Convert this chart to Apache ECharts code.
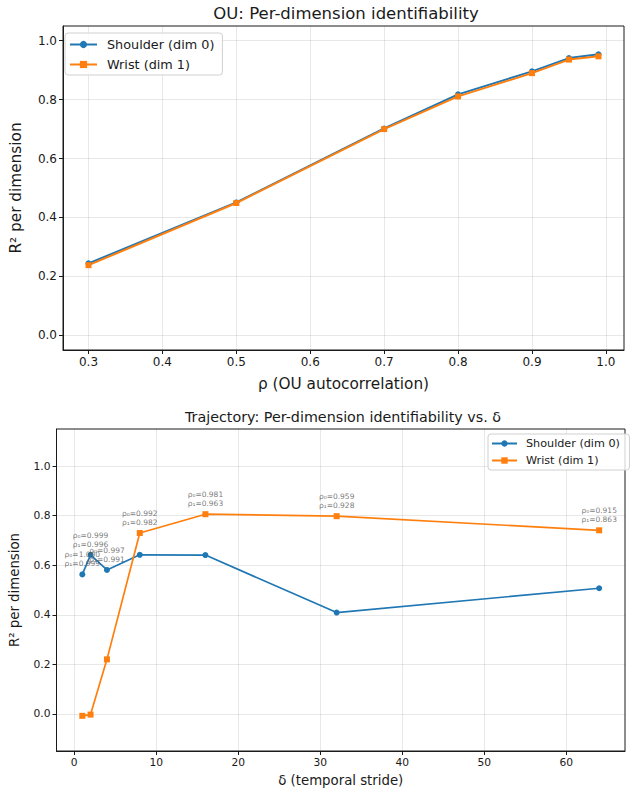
<!DOCTYPE html>
<html>
<head>
<meta charset="utf-8">
<script src="https://cdn.jsdelivr.net/npm/echarts@6/dist/echarts.min.js"></script>
<style>
  html, body { margin: 0; padding: 0; background: #fff; }
  #chart { width: 632px; height: 794px; }
</style>
</head>
<body>
<div id="chart"></div>
<script>
// ---------- data: OU panel ----------
var ouRho = [0.3, 0.5, 0.7, 0.8, 0.9, 0.95, 0.99];
var ouShoulder = [0.244, 0.451, 0.702, 0.818, 0.896, 0.941, 0.954];
var ouWrist = [0.238, 0.449, 0.700, 0.811, 0.890, 0.936, 0.947];
var ouXTicks = [0.3, 0.4, 0.5, 0.6, 0.7, 0.8, 0.9, 1.0];
var ouYTicks = [0.0, 0.2, 0.4, 0.6, 0.8, 1.0];

// ---------- data: trajectory panel ----------
var strides = [1, 2, 4, 8, 16, 32, 64];
var trShoulder = [0.563, 0.642, 0.581, 0.642, 0.641, 0.409, 0.507];
var trWrist = [-0.008, -0.003, 0.220, 0.730, 0.806, 0.798, 0.741];
var rho0 = ['1.000', '0.999', '0.997', '0.992', '0.981', '0.959', '0.915'];
var rho1 = ['0.999', '0.996', '0.991', '0.982', '0.963', '0.928', '0.863'];
var trXTicks = [0, 10, 20, 30, 40, 50, 60];
var trYTicks = [0.0, 0.2, 0.4, 0.6, 0.8, 1.0];

var blue = '#1f77b4';
var orange = '#ff7f0e';
var ink = '#1a1a1a';
var font = 'DejaVu Sans';

function valueAxis(gridIndex, min, max, ticks, fmt, labelSize, name, nameGap, nameSize) {
  return {
    type: 'value',
    gridIndex: gridIndex,
    min: min,
    max: max,
    name: name,
    nameLocation: 'middle',
    nameGap: nameGap,
    nameTextStyle: { color: ink, fontSize: nameSize, fontFamily: font },
    axisLine: { show: true, onZero: false, lineStyle: { color: ink, width: 1 } },
    axisTick: { show: true, customValues: ticks, length: 4, lineStyle: { color: ink } },
    axisLabel: { customValues: ticks, color: ink, fontSize: labelSize, fontFamily: font, margin: 6, formatter: fmt },
    splitLine: { show: true, lineStyle: { color: 'rgba(0,0,0,0.09)', width: 1 } }
  };
}
function oneDec(v) { return v.toFixed(1); }
function intFmt(v) { return String(Math.round(v)); }

function pairs(xs, ys) { return xs.map(function (x, i) { return [x, ys[i]]; }); }

// annotation sits above the higher of the two points at each stride
var annotData = strides.map(function (d, i) {
  return [d, Math.max(trShoulder[i], trWrist[i])];
});

var chart = echarts.init(document.getElementById('chart'), null, { renderer: 'svg' });
chart.setOption({
  animation: false,
  title: [
    { text: 'OU: Per-dimension identifiability', left: 341, top: 0, textAlign: 'center',
      textStyle: { fontSize: 16.5, fontWeight: 'normal', color: ink, fontFamily: font } },
    { text: 'Trajectory: Per-dimension identifiability vs. δ', left: 338, top: 405, textAlign: 'center',
      textStyle: { fontSize: 14.3, fontWeight: 'normal', color: ink, fontFamily: font } }
  ],
  grid: [
    { left: 58, top: 26, width: 566, height: 324, show: true, borderColor: ink, borderWidth: 1, containLabel: false },
    { left: 50, top: 429, width: 575, height: 322, show: true, borderColor: ink, borderWidth: 1, containLabel: false }
  ],
  xAxis: [
    valueAxis(0, 0.2655, 1.0245, ouXTicks, oneDec, 12, 'ρ (OU autocorrelation)', 26, 15.3),
    valueAxis(1, -2.15, 67.15, trXTicks, intFmt, 10.7, 'δ (temporal stride)', 22.5, 13.3)
  ],
  yAxis: [
    valueAxis(0, -0.05, 1.05, ouYTicks, oneDec, 12, 'R² per dimension', 40, 15.3),
    valueAxis(1, -0.15, 1.15, trYTicks, oneDec, 10.7, 'R² per dimension', 35.5, 13.3)
  ],
  legend: [
    {
      data: ['Shoulder (dim 0)', 'Wrist (dim 1)'],
      orient: 'vertical', left: 65, top: 33,
      padding: [4, 8, 3, 4], itemGap: 5, itemWidth: 27, itemHeight: 9,
      backgroundColor: 'rgba(255,255,255,0.8)', borderColor: '#d0d0d0', borderWidth: 1, borderRadius: 3,
      textStyle: { fontSize: 12.8, lineHeight: 15, color: ink, fontFamily: font, padding: [0, 0, 0, 5] }
    },
    {
      data: ['Shoulder (dim 0) ', 'Wrist (dim 1) '],
      orient: 'vertical', left: 488, top: 434,
      padding: [3, 6, 3, 3], itemGap: 4, itemWidth: 25, itemHeight: 8,
      backgroundColor: 'rgba(255,255,255,0.8)', borderColor: '#d0d0d0', borderWidth: 1, borderRadius: 3,
      textStyle: { fontSize: 11.2, lineHeight: 13, color: ink, fontFamily: font, padding: [0, 0, 0, 4] }
    }
  ],
  series: [
    { name: 'Shoulder (dim 0)', type: 'line', xAxisIndex: 0, yAxisIndex: 0, data: pairs(ouRho, ouShoulder),
      symbol: 'circle', symbolSize: 6, showAllSymbol: true,
      lineStyle: { color: blue, width: 2 }, itemStyle: { color: blue } },
    { name: 'Wrist (dim 1)', type: 'line', xAxisIndex: 0, yAxisIndex: 0, data: pairs(ouRho, ouWrist),
      symbol: 'rect', symbolSize: 6, showAllSymbol: true,
      lineStyle: { color: orange, width: 2 }, itemStyle: { color: orange } },
    { name: 'Shoulder (dim 0) ', type: 'line', xAxisIndex: 1, yAxisIndex: 1, data: pairs(strides, trShoulder),
      symbol: 'circle', symbolSize: 6, showAllSymbol: true,
      lineStyle: { color: blue, width: 1.7 }, itemStyle: { color: blue } },
    { name: 'Wrist (dim 1) ', type: 'line', xAxisIndex: 1, yAxisIndex: 1, data: pairs(strides, trWrist),
      symbol: 'rect', symbolSize: 6, showAllSymbol: true,
      lineStyle: { color: orange, width: 1.7 }, itemStyle: { color: orange } },
    { name: 'annot', type: 'scatter', xAxisIndex: 1, yAxisIndex: 1, data: annotData,
      symbolSize: 0, silent: true, z: 10,
      label: {
        show: true, position: 'top', distance: 6,
        color: '#555', fontSize: 7.5, lineHeight: 9, fontFamily: font, align: 'center',
        formatter: function (p) {
          return 'ρ₀=' + rho0[p.dataIndex] + '\nρ₁=' + rho1[p.dataIndex];
        }
      } }
  ]
});
</script>
</body>
</html>
